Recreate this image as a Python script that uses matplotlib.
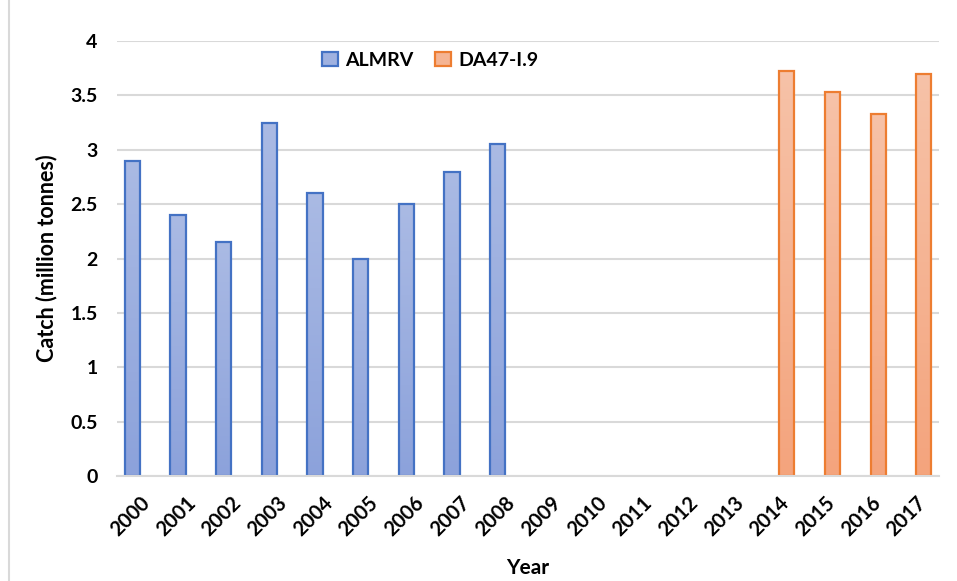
import matplotlib.pyplot as plt
import numpy as np
from matplotlib.lines import Line2D
from matplotlib.colors import LinearSegmentedColormap

# data
years = [str(y) for y in range(2000, 2018)]
almrv = [2.9, 2.4, 2.15, 3.25, 2.6, 2.0, 2.5, 2.8, 3.05] + [np.nan] * 9
da47 = [np.nan] * 14 + [3.72, 3.53, 3.33, 3.70]
yticks = [0, 0.5, 1, 1.5, 2, 2.5, 3, 3.5, 4]
ytick_labels = ['0', '0.5', '1', '1.5', '2', '2.5', '3', '3.5', '4']

plt.rcParams['font.family'] = ['Lato', 'DejaVu Sans']
plt.rcParams['font.weight'] = 'bold'

fig = plt.figure(figsize=(9.57, 5.81), dpi=100)
ax = fig.add_axes([0.1223, 0.1807, 0.8589, 0.7487])

x = np.arange(len(years))
w = 0.33
b1 = ax.bar(x - w / 2, almrv, w, color='none', edgecolor='#4472C4', linewidth=1.6,
            label='ALMRV', zorder=3)
b2 = ax.bar(x + w / 2, da47, w, color='none', edgecolor='#ED7D31', linewidth=1.6,
            label='DA47-I.9', zorder=3)


def fill_gradient(bars, top, bottom):
    # excel style gradient: lighter at the top of each bar
    cmap = LinearSegmentedColormap.from_list('g', [bottom, top])
    grad = np.linspace(0, 1, 100).reshape(-1, 1)
    for bar in bars:
        h = bar.get_height()
        if np.isnan(h):
            continue
        x0 = bar.get_x()
        ax.imshow(grad, extent=[x0, x0 + bar.get_width(), 0, h], origin='lower',
                  cmap=cmap, aspect='auto', zorder=2.5)


fill_gradient(b1, '#AABAE4', '#8CA2DB')
fill_gradient(b2, '#F7C2A8', '#F4A47D')

ax.set_xlim(-0.5, len(years) - 0.5)
ax.set_ylim(0, 4)
ax.set_yticks(yticks)
ax.set_yticklabels(ytick_labels, fontsize=14, fontweight='bold')
ax.set_xticks(x)
ax.set_xticklabels(years, rotation=45, ha='right', rotation_mode='anchor',
                   fontsize=14.5, fontweight='bold')
ax.tick_params(length=0)
ax.tick_params(axis='y', pad=14)
ax.tick_params(axis='x', pad=12)

ax.grid(axis='y', color='#D9D9D9', linewidth=1.5, zorder=0)
for s in ['top', 'right', 'left']:
    ax.spines[s].set_visible(False)
ax.spines['bottom'].set_color('#D9D9D9')
ax.spines['bottom'].set_linewidth(1.5)
ax.spines['bottom'].set_zorder(4)

ax.set_ylabel('Catch (million tonnes)', fontsize=15.5, fontweight='bold', labelpad=9)
ax.set_xlabel('Year', fontsize=15, fontweight='bold', labelpad=13)

leg = ax.legend(loc='center', bbox_to_anchor=(0.381, 0.956), ncol=2, frameon=False,
                prop={'size': 14, 'weight': 'bold'}, handlelength=0.8, handleheight=0.8,
                columnspacing=1.1, handletextpad=0.4)
leg.legend_handles[0].set_facecolor('#9FB1E0')
leg.legend_handles[1].set_facecolor('#F5B493')

# light border line on the left edge of the picture
fig.add_artist(Line2D([0.0094, 0.0094], [0, 1], color='#D9D9D9', linewidth=1.5))

fig.savefig('out.png', dpi=100)
